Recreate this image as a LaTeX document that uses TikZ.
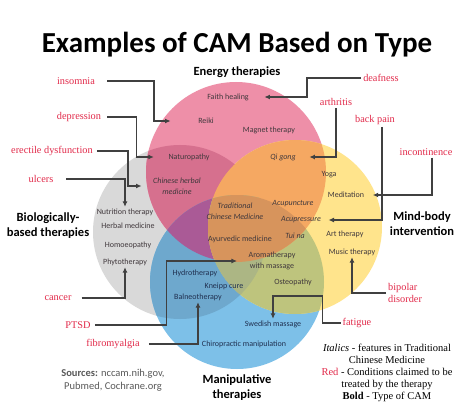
\documentclass[tikz,border=0pt]{standalone}
\usepackage{xcolor}
\usepackage{fontspec}
\usepackage{tikz}
\usetikzlibrary{arrows.meta}
\setmainfont{Liberation Serif}
\newfontfamily\calib{Carlito}

\definecolor{pinkfill}{RGB}{238,143,168}
\definecolor{grayfill}{RGB}{217,217,217}
\definecolor{bluefill}{RGB}{125,192,232}
\definecolor{yellowfill}{RGB}{255,228,140}
\definecolor{mauvefill}{RGB}{214,112,142}
\definecolor{dbluefill}{RGB}{110,168,205}
\definecolor{purplefill}{RGB}{170,90,150}
\definecolor{greenfill}{RGB}{190,196,125}
\definecolor{orangefill}{RGB}{245,168,98}
\definecolor{brownfill}{RGB}{215,148,92}
\definecolor{olivefill}{RGB}{172,182,132}
\definecolor{ailred}{RGB}{226,42,74}
\definecolor{itemgray}{RGB}{64,56,60}
\definecolor{itemblue}{RGB}{32,48,80}
\definecolor{linkgray}{RGB}{64,64,64}
\definecolor{srcgray}{RGB}{89,89,89}

% the four circles
\newcommand{\energyc}{(236,172) circle[radius=90]}
\newcommand{\bioc}{(180,232) circle[radius=87]}
\newcommand{\manipc}{(237,282) circle[radius=87]}
\newcommand{\mindc}{(295,227) circle[radius=87]}

\tikzset{
  item/.style={font=\calib\fontsize{8}{11}\selectfont, text=itemgray, align=center, inner sep=1.5pt},
  tcm/.style={item, font=\calib\itshape\fontsize{8}{11}\selectfont},
  blueitem/.style={item, text=itemblue},
  kind/.style={font=\calib\bfseries\fontsize{12.5}{15}\selectfont, align=center},
  ailment/.style={font=\fontsize{10.3}{12}\selectfont, text=ailred, inner sep=2pt},
  link/.style={draw=linkgray, line width=1.2pt, -{Latex[length=5.5pt,width=5pt]}}
}

\begin{document}
\begin{tikzpicture}[x=1pt,y=-1pt]
  \useasboundingbox[fill=white] (0,0) rectangle (474,409);

  % circles
  \fill[grayfill] \bioc;
  \fill[bluefill] \manipc;
  \fill[pinkfill] \energyc;
  \fill[yellowfill] \mindc;
  \begin{scope}\clip \energyc; \fill[mauvefill] \bioc; \end{scope}
  \begin{scope}\clip \bioc; \fill[dbluefill] \manipc; \end{scope}
  \begin{scope}\clip \energyc; \fill[purplefill] \manipc; \end{scope}
  \begin{scope}\clip \manipc; \fill[greenfill] \mindc; \end{scope}
  \begin{scope}\clip \energyc; \fill[orangefill] \mindc; \end{scope}
  \begin{scope}\clip \bioc; \clip \manipc; \fill[olivefill] \mindc; \end{scope}
  \begin{scope}\clip \energyc; \clip \manipc; \fill[brownfill] \mindc; \end{scope}

  \node[anchor=base, font=\calib\bfseries\fontsize{29}{34}\selectfont] (title) at (237,53) {Examples of CAM Based on Type};

  % types
  \node[kind] (energy) at (237,72) {Energy therapies};
  \node[kind] (bio) at (48,226) {Biologically-\\based therapies};
  \node[kind] (mind) at (422,224) {Mind-body\\intervention};
  \node[kind] (manip) at (237,388) {Manipulative\\therapies};

  % therapies
  \node[item] (faith) at (228,97) {Faith healing};
  \node[item] (reiki) at (206,121) {Reiki};
  \node[item] (magnet) at (269,130) {Magnet therapy};
  \node[item] (natur) at (189,157) {Naturopathy};
  \node[tcm] (qigong) at (283,157) {Qi gong};
  \node[item] (yoga) at (329,175) {Yoga};
  \node[tcm] (herbalcn) at (177,186) {Chinese herbal\\medicine};
  \node[item] (nutri) at (125,212) {Nutrition therapy};
  \node[item] (herbal) at (128,226) {Herbal medicine};
  \node[item] (homoeo) at (128,245) {Homoeopathy};
  \node[item] (phyto) at (125,262) {Phytotherapy};
  \node[blueitem] (hydro) at (195,273) {Hydrotherapy};
  \node[blueitem] (kneipp) at (224,286) {Kneipp cure};
  \node[blueitem] (balneo) at (198,297) {Balneotherapy};
  \node[blueitem] (swedish) at (273,324) {Swedish massage};
  \node[blueitem] (chiro) at (244,344) {Chiropractic manipulation};
  \node[tcm] (tcmed) at (235,211) {Traditional\\Chinese Medicine};
  \node[tcm] (acupunct) at (293,204) {Acupuncture};
  \node[tcm] (acupress) at (301,220) {Acupressure};
  \node[tcm] (tuina) at (295,236) {Tui na};
  \node[item] (ayur) at (240,239) {Ayurvedic medicine};
  \node[item] (aroma) at (272,261) {Aromatherapy\\with massage};
  \node[item] (osteo) at (293,282) {Osteopathy};
  \node[item] (medit) at (346,195) {Meditation};
  \node[item] (art) at (345,234) {Art therapy};
  \node[item] (music) at (352,252) {Music therapy};

  % conditions
  \node[ailment] (insomnia) at (76,81) {insomnia};
  \node[ailment] (depress) at (79,117) {depression};
  \node[ailment] (erectile) at (52,151) {erectile dysfunction};
  \node[ailment] (ulcers) at (41,179) {ulcers};
  \node[ailment] (deaf) at (381,78) {deafness};
  \node[ailment] (arth) at (336,102) {arthritis};
  \node[ailment] (back) at (375,120) {back pain};
  \node[ailment] (incont) at (426,152) {incontinence};
  \node[ailment] (cancer) at (58,298) {cancer};
  \node[ailment] (ptsd) at (78,325) {PTSD};
  \node[ailment] (fibro) at (113,344) {fibromyalgia};
  \node[ailment, align=left, anchor=west] (bipolar) at (386,293) {bipolar\\disorder};
  \node[ailment] (fatigue) at (357,323) {fatigue};

  \draw[link] ([xshift=10pt]insomnia.east) -- ++(47,0) |- ([xshift=-26pt]reiki.west);
  \draw[link] ([xshift=4pt]depress.east) -- ++(29,0) |- ([xshift=-13pt]natur.west);
  \draw[link] ([xshift=2pt]erectile.east) -- ++(31,0) |- ([xshift=-10pt]herbalcn.west);
  \draw[link] ([xshift=11pt]ulcers.east) -| (nutri.north);
  \draw[link] (deaf.west) -- ++(-54,0) |- ([xshift=14pt]faith.east);
  \draw[link] (arth.south) |- ([xshift=12pt]qigong.east);
  \draw[link] ([xshift=7pt]back.south) |- ([xshift=6pt]acupress.east);
  \draw[link] ([xshift=6pt]incont.south) |- ([xshift=7pt]medit.east);
  \draw[link] (bipolar.west) -| (music.south);
  \draw[link] (fatigue.west) -- ++(-18,0) -- ++(0,-27) -| (swedish.north);
  \draw[link] ([xshift=8pt]cancer.east) -| (phyto.south);
  \draw[link] ([xshift=2pt]ptsd.east) -- ++(72,0) |- ([xshift=-10pt]aroma.west);
  \draw[link] ([xshift=7pt]fibro.east) -| (balneo.south);

  % sources and key
  \node[font=\calib\fontsize{10.5}{13}\selectfont, text=srcgray, align=center] (src) at (113,380)
    {\textbf{Sources:} nccam.nih.gov,\\Pubmed, Cochrane.org};
  \node[font=\fontsize{10.5}{12}\selectfont, align=center] (legend) at (387,373)
    {\textit{Italics} - features in Traditional\\Chinese Medicine\\\textcolor{ailred}{Red} - Conditions claimed to be\\treated by the therapy\\\textbf{Bold} - Type of CAM};
\end{tikzpicture}
\end{document}
